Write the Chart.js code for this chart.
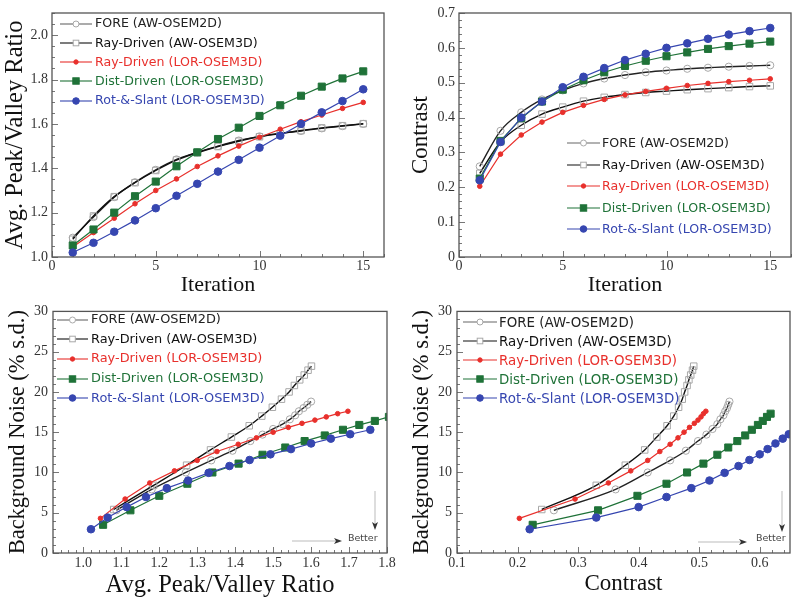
<!DOCTYPE html>
<html><head><meta charset="utf-8">
<script src="https://cdn.jsdelivr.net/npm/chart.js@4.4.0/dist/chart.umd.min.js"></script>
<style>
html,body{margin:0;padding:0;background:#fff;}
#wrap{position:relative;width:800px;height:598px;overflow:hidden;background:#fff;}
canvas{position:absolute;}
.leg{position:absolute;left:0;top:0;font-family:'DejaVu Sans',sans-serif;white-space:nowrap;}
.leg svg{position:absolute;}
.leg span{position:absolute;line-height:1;}
</style></head><body>
<div id="wrap">
<canvas id="c1" width="400" height="299" style="left:0;top:0"></canvas>
<canvas id="c2" width="400" height="299" style="left:400px;top:0"></canvas>
<canvas id="c3" width="400" height="300" style="left:0;top:298px"></canvas>
<canvas id="c4" width="400" height="300" style="left:400px;top:298px"></canvas>
<div id="legends"></div>
</div>
<script>
// ---------------- DATA ----------------
const seriesNames = ['FORE (AW-OSEM2D)','Ray-Driven (AW-OSEM3D)','Ray-Driven (LOR-OSEM3D)','Dist-Driven (LOR-OSEM3D)','Rot-&-Slant (LOR-OSEM3D)'];
const iterations = [1,2,3,4,5,6,7,8,9,10,11,12,13,14,15];

// Avg. Peak/Valley Ratio per iteration
const pvFore   = [1.087,1.18,1.27,1.337,1.393,1.44,1.472,1.50,1.525,1.544,1.558,1.568,1.58,1.59,1.60];
const pvRayAW  = [1.08,1.185,1.272,1.335,1.39,1.437,1.47,1.498,1.522,1.542,1.556,1.57,1.582,1.592,1.601];
const pvRayLOR = [1.045,1.11,1.175,1.24,1.30,1.352,1.408,1.456,1.50,1.54,1.576,1.61,1.64,1.67,1.697];
const pvDist   = [1.052,1.124,1.20,1.274,1.34,1.409,1.472,1.532,1.583,1.636,1.684,1.727,1.768,1.805,1.837];
const pvRot    = [1.02,1.064,1.114,1.165,1.22,1.276,1.33,1.385,1.438,1.493,1.547,1.60,1.652,1.703,1.756];

// Contrast per iteration
const cFore   = [0.26,0.362,0.415,0.452,0.478,0.498,0.512,0.522,0.53,0.535,0.54,0.543,0.546,0.548,0.55];
const cRayAW  = [0.24,0.33,0.378,0.41,0.43,0.447,0.458,0.466,0.472,0.476,0.48,0.483,0.486,0.489,0.491];
const cRayLOR = [0.203,0.295,0.35,0.387,0.415,0.435,0.452,0.465,0.475,0.484,0.492,0.498,0.503,0.507,0.511];
const cDist   = [0.225,0.333,0.398,0.446,0.48,0.507,0.53,0.548,0.563,0.576,0.587,0.597,0.605,0.612,0.618];
const cRot    = [0.22,0.33,0.40,0.446,0.487,0.517,0.542,0.565,0.583,0.60,0.613,0.626,0.638,0.648,0.657];

// Background noise (% s.d.) per iteration
const nFore   = [5.3,7.9,10.0,11.5,12.7,13.9,14.7,15.4,16.0,16.6,17.1,17.6,18.0,18.4,18.8];
const nRayAW  = [5.4,8.4,10.9,12.8,14.4,15.8,17.0,18.1,19.1,20.0,20.8,21.5,22.1,22.7,23.2];
const nRayLOR = [4.3,6.7,8.7,10.2,11.5,12.6,13.5,14.3,15.0,15.6,16.1,16.5,16.9,17.3,17.6];
const nDist   = [3.5,5.3,7.1,8.6,10.0,11.1,12.2,13.1,13.9,14.6,15.3,15.9,16.4,16.9,17.3];
const nRot    = [2.95,4.4,5.7,6.95,8.05,9.0,9.95,10.8,11.55,12.25,12.9,13.6,14.2,14.75,15.3];

// Tick labels
const p1XTicks = ['0','5','10','15'];
const p1YTicks = ['1.0','1.2','1.4','1.6','1.8','2.0'];
const p2XTicks = ['0','5','10','15'];
const p2YTicks = ['0','0.1','0.2','0.3','0.4','0.5','0.6','0.7'];
const p3XTicks = ['1.0','1.1','1.2','1.3','1.4','1.5','1.6','1.7','1.8'];
const p3YTicks = ['0','5','10','15','20','25','30'];
const p4XTicks = ['0.1','0.2','0.3','0.4','0.5','0.6'];
const p4YTicks = ['0','5','10','15','20','25','30'];

// ---------------- STYLES ----------------
const RED = '#e8302c', GREEN = '#1f7238', BLUE = '#3646b0';
const styles = [
  {line:'#222', width:1.4, ps:'circle', r:3.6, bg:'rgba(255,255,255,0)', bc:'#a8a8a8', bw:1, tension:0.4, order:5, text:'#222', legLine:'#666'},
  {line:'#111', width:1.4, ps:'rect', r:4.6, bg:'rgba(255,255,255,0)', bc:'#a8a8a8', bw:1, tension:0.4, order:4, text:'#111', legLine:'#111'},
  {line:RED, width:1.2, ps:'circle', r:2.3, bg:RED, bc:RED, bw:1, tension:0, order:3, text:RED, legLine:RED},
  {line:GREEN, width:1.2, ps:'rect', r:5, bg:GREEN, bc:GREEN, bw:1, tension:0, order:2, text:GREEN, legLine:GREEN},
  {line:BLUE, width:1.2, ps:'circle', r:3.8, bg:BLUE, bc:BLUE, bw:1, tension:0, order:1, text:BLUE, legLine:BLUE}
];

function makeDatasets(xsList, ysList){
  return xsList.map((xs,k)=>{
    const s = styles[k];
    return {
      label: seriesNames[k],
      data: xs.map((x,i)=>({x:x, y:ysList[k][i]})),
      borderColor: s.line, borderWidth: s.width, tension: s.tension,
      cubicInterpolationMode: s.tension ? 'monotone' : 'default',
      pointStyle: s.ps, pointRadius: s.r, pointBackgroundColor: s.bg,
      pointBorderColor: s.bc, pointBorderWidth: s.bw, fill:false, order: s.order, clip: 0
    };
  });
}

const SERIF = "'Liberation Serif','Times New Roman',serif";

function axis(opts){
  const vals = opts.ticks.map(Number);
  return {
    type:'linear', min: opts.min, max: opts.max,
    afterBuildTicks: s => { s.ticks = vals.map(v=>({value:v})); },
    afterFit: s => { if (opts.w !== undefined) s.width = opts.w; if (opts.h !== undefined) s.height = opts.h; },
    ticks: { callback: (v,i) => opts.ticks[i], font:{family:SERIF, size:14}, color:'#333', padding: opts.pad, maxRotation:0, autoSkip:false },
    grid: { display:false, drawTicks:false },
    border: { display:false },
    title: { display:true, text: opts.title, font:{family:SERIF, size:opts.tsize, lineHeight:1}, color:'#111', padding: opts.tpad },
    _minor: opts.minor, _major: opts.major
  };
}

const framePlugin = {
  id:'frame',
  beforeDatasetsDraw(chart){
    const {ctx, chartArea:a} = chart;
    ctx.save();
    ctx.strokeStyle = '#777'; ctx.lineWidth = 1;
    ['x','y'].forEach(id=>{
      const sc = chart.scales[id];
      const o = chart.options.scales[id];
      const minor = o._minor, major = o._major;
      const n0 = Math.ceil(sc.min/minor - 1e-6), n1 = Math.floor(sc.max/minor + 1e-6);
      for (let n=n0;n<=n1;n++){
        const v = n*minor;
        const isMaj = Math.abs(v/major - Math.round(v/major)) < 1e-6;
        const len = isMaj ? 6 : 3;
        const p = Math.round(sc.getPixelForValue(v)) + 0.5;
        ctx.beginPath();
        if (id==='x'){ ctx.moveTo(p, a.bottom); ctx.lineTo(p, a.bottom-len); }
        else { ctx.moveTo(a.left, p); ctx.lineTo(a.left+len, p); }
        ctx.stroke();
      }
    });
    ctx.restore();
  },
  afterDatasetsDraw(chart){
    const {ctx, chartArea:a} = chart;
    ctx.save();
    ctx.strokeStyle = '#555'; ctx.lineWidth = 1.3;
    ctx.strokeRect(a.left, a.top, a.right-a.left, a.bottom-a.top);
    ctx.restore();
  }
};

const betterPlugin = {
  id:'better',
  afterDraw(chart, args, o){
    if (!o || !o.on) return;
    const ctx = chart.ctx;
    ctx.save();
    ctx.strokeStyle = '#bbb'; ctx.lineWidth = 1;
    ctx.beginPath(); ctx.moveTo(o.hx1, o.hy); ctx.lineTo(o.hx2, o.hy); ctx.stroke();
    ctx.beginPath(); ctx.moveTo(o.vx, o.vy1); ctx.lineTo(o.vx, o.vy2); ctx.stroke();
    ctx.fillStyle = '#333';
    ctx.beginPath();
    ctx.moveTo(o.hx2+4, o.hy); ctx.lineTo(o.hx2-4, o.hy-3); ctx.lineTo(o.hx2-2, o.hy); ctx.lineTo(o.hx2-4, o.hy+3); ctx.closePath(); ctx.fill();
    ctx.beginPath();
    ctx.moveTo(o.vx, o.vy2+2); ctx.lineTo(o.vx-3, o.vy2-6); ctx.lineTo(o.vx, o.vy2-4); ctx.lineTo(o.vx+3, o.vy2-6); ctx.closePath(); ctx.fill();
    ctx.font = "9.5px 'DejaVu Sans', sans-serif";
    ctx.fillStyle = '#444'; ctx.textBaseline = 'middle'; ctx.textAlign = 'left';
    ctx.fillText('Better', o.tx, o.ty);
    ctx.restore();
  }
};

function makeChart(id, datasets, xA, yA, pad, better){
  return new Chart(document.getElementById(id), {
    type:'line',
    data:{ datasets },
    options:{
      responsive:false, animation:false, events:[],
      layout:{ padding:{ top:pad.top, right:pad.right, left:0, bottom:0 } },
      scales:{ x:xA, y:yA },
      plugins:{ legend:{display:false}, tooltip:{enabled:false}, better: better || {on:false} }
    },
    plugins:[framePlugin, betterPlugin]
  });
}

// Panel 1: P/V vs iteration
makeChart('c1',
  makeDatasets([iterations,iterations,iterations,iterations,iterations],[pvFore,pvRayAW,pvRayLOR,pvDist,pvRot]),
  axis({min:0,max:16,ticks:p1XTicks,title:'Iteration',tsize:22,h:42,pad:1,tpad:{top:0,bottom:2.5},minor:1,major:5}),
  axis({min:1.0,max:2.1,ticks:p1YTicks,title:'Avg. Peak/Valley Ratio',tsize:24.5,w:52,pad:4,tpad:{top:3.5,bottom:0},minor:0.05,major:0.2}),
  {top:13,right:16});

// Panel 2: contrast vs iteration
makeChart('c2',
  makeDatasets([iterations,iterations,iterations,iterations,iterations],[cFore,cRayAW,cRayLOR,cDist,cRot]),
  axis({min:0,max:16,ticks:p2XTicks,title:'Iteration',tsize:22,h:42,pad:1,tpad:{top:0,bottom:2.5},minor:1,major:5}),
  axis({min:0,max:0.7,ticks:p2YTicks,title:'Contrast',tsize:23,w:59,pad:4,tpad:{top:9.5,bottom:0},minor:0.02,major:0.1}),
  {top:13,right:9});

// Panel 3: noise vs P/V
makeChart('c3',
  makeDatasets([pvFore,pvRayAW,pvRayLOR,pvDist,pvRot],[nFore,nRayAW,nRayLOR,nDist,nRot]),
  axis({min:0.92,max:1.8,ticks:p3XTicks,title:'Avg. Peak/Valley Ratio',tsize:24.5,h:45,pad:2,tpad:{top:0,bottom:0},minor:0.02,major:0.1}),
  axis({min:0,max:30,ticks:p3YTicks,title:'Background Noise (% s.d.)',tsize:22.5,w:53,pad:5,tpad:{top:7,bottom:0},minor:1,major:5}),
  {top:10,right:13},
  {on:true,hx1:292,hx2:338,hy:243,tx:348,ty:241,vx:375,vy1:193,vy2:230});

// Panel 4: noise vs contrast
makeChart('c4',
  makeDatasets([cFore,cRayAW,cRayLOR,cDist,cRot],[nFore,nRayAW,nRayLOR,nDist,nRot]),
  axis({min:0.1,max:0.65,ticks:p4XTicks,title:'Contrast',tsize:23,h:45,pad:2,tpad:{top:0,bottom:3},minor:0.02,major:0.1}),
  axis({min:0,max:30,ticks:p4YTicks,title:'Background Noise (% s.d.)',tsize:22.5,w:57,pad:5,tpad:{top:11,bottom:0},minor:1,major:5}),
  {top:10,right:10},
  {on:true,hx1:298,hx2:343,hy:244,tx:356,ty:241,vx:382,vy1:193,vy2:232});

// ---------------- LEGENDS (HTML) ----------------
const legendLayouts = [
  {x:60, w:32, tx:95,  y0:23.5, dy:19.3, fs:12.6},
  {x:567,w:33, tx:602, y0:143.3,dy:21.5, fs:12.6},
  {x:57, w:31, tx:91,  y0:319.7,dy:19.6, fs:12.9},
  {x:463,w:34, tx:499, y0:322.3,dy:19.0, fs:13.4}
];
const legRoot = document.getElementById('legends');
legendLayouts.forEach(L=>{
  const box = document.createElement('div'); box.className='leg';
  seriesNames.forEach((name,k)=>{
    const s = styles[k];
    const yc = L.y0 + k*L.dy;
    const svgNS='http://www.w3.org/2000/svg';
    const svg = document.createElementNS(svgNS,'svg');
    svg.setAttribute('width',L.w); svg.setAttribute('height',12);
    svg.style.left = L.x+'px'; svg.style.top = (yc-6)+'px';
    const ln = document.createElementNS(svgNS,'line');
    ln.setAttribute('x1',0); ln.setAttribute('x2',L.w); ln.setAttribute('y1',6); ln.setAttribute('y2',6);
    ln.setAttribute('stroke',s.legLine); ln.setAttribute('stroke-width',1.1);
    svg.appendChild(ln);
    const cx = L.w/2;
    let m;
    if (s.ps==='circle'){
      m = document.createElementNS(svgNS,'circle');
      m.setAttribute('cx',cx); m.setAttribute('cy',6); m.setAttribute('r', k===0?3.0:(k===2?2.2:3.3));
    } else {
      m = document.createElementNS(svgNS,'rect');
      const h = k===1 ? 2.8 : 3.2;
      m.setAttribute('x',cx-h); m.setAttribute('y',6-h); m.setAttribute('width',2*h); m.setAttribute('height',2*h);
    }
    m.setAttribute('fill', k<2 ? '#fff' : s.bg);
    m.setAttribute('stroke', s.bc); m.setAttribute('stroke-width',1);
    svg.appendChild(m);
    box.appendChild(svg);
    const sp = document.createElement('span');
    sp.textContent = name;
    sp.style.left = L.tx+'px'; sp.style.top = (yc - L.fs*0.5)+'px';
    sp.style.fontSize = L.fs+'px'; sp.style.color = s.text;
    box.appendChild(sp);
  });
  legRoot.appendChild(box);
});
</script>
</body></html>
